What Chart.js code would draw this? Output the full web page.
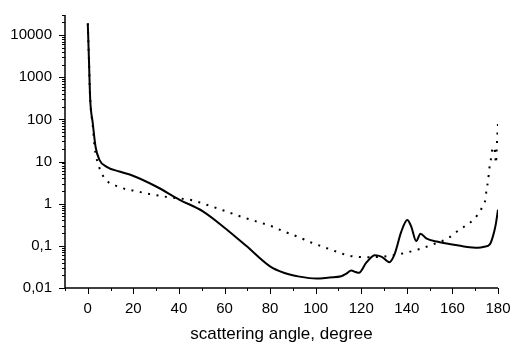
<!DOCTYPE html>
<html>
<head>
<meta charset="utf-8">
<script src="https://cdn.jsdelivr.net/npm/chart.js@4"></script>
<style>
  body { margin: 0; background: #fff; }
</style>
</head>
<body>
<canvas id="phaseChart" width="512" height="346"></canvas>
<script>
// solid curve
const solidAngle = [0, 0.5, 1.05, 2.2, 3.4, 5.1, 8.1, 13.9, 19.8, 30, 40.3, 50.5, 60, 69.5, 79.8, 86, 92.9,
    100.3, 106.1, 111.2, 113.5, 115.6, 117.5, 119, 122.2, 126, 129, 132.3, 134.6, 137.6, 140.2, 141.9,
    144.1, 146, 148.5, 153.6, 160, 165, 171.2, 174, 176.4, 177.8, 179, 180];
const solidValue = [19000, 2700, 310, 80, 22.5, 11, 7.6, 5.8, 4.6, 2.56, 1.24, 0.66, 0.27, 0.1, 0.033, 0.023, 0.0186,
    0.0167, 0.0178, 0.019, 0.022, 0.026, 0.024, 0.023, 0.04, 0.06, 0.055, 0.041, 0.063, 0.22, 0.41, 0.29,
    0.13, 0.195, 0.15, 0.125, 0.108, 0.097, 0.09, 0.095, 0.108, 0.17, 0.32, 0.72];

// dotted curve
const dotAngle = [0, 0.5, 1.05, 2.2, 3.0, 3.7, 4.8, 6.3, 9.2, 13.2, 16.9, 19.8, 27, 35, 46, 52, 59.3, 66, 73.9, 80, 86,
    92.2, 98, 103.2, 107.6, 114.9, 122.2, 130.2, 137.6, 144.9, 152.2, 158, 163.2, 167.6, 170.8, 173.1, 174.5,
    174.9, 175.6, 176.0, 176.4, 177.1, 177.5, 178.3, 178.8, 179.1, 179.4, 179.7, 180];
const dotValue = [19000, 2700, 310, 70, 22, 13, 7.9, 5, 3.2, 2.56, 2.2, 2.06, 1.7, 1.44, 1.2, 0.95, 0.7, 0.52, 0.38, 0.3, 0.22,
    0.164, 0.12, 0.095, 0.078, 0.058, 0.054, 0.056, 0.065, 0.082, 0.112, 0.15, 0.244, 0.35, 0.52, 0.84, 1.29,
    2.0, 3.4, 5.3, 8.3, 13, 20, 22, 13, 9, 19, 40, 80];

// axis ticks
const xMin = -10, xMax = 180, xStep = 10, xLabelStep = 20;
const yLabels = [0.01, 0.1, 1, 10, 100, 1000, 10000];
const yMin = 0.01, yMax = 30000;

const tickFont = { family: 'Liberation Sans, Arial, sans-serif', size: 15 };

function toPoints(xs, ys) {
    return xs.map((x, i) => ({ x: x, y: ys[i] }));
}

function isDecade(v) {
    const l = Math.log10(v);
    return Math.abs(l - Math.round(l)) < 1e-9;
}

// draw axis lines and tick marks (major longer than minor)
const axisTicks = {
    id: 'axisTicks',
    afterDraw(chart) {
        const { ctx, chartArea: a, scales: { x, y } } = chart;
        ctx.save();
        ctx.strokeStyle = '#000';
        ctx.lineWidth = 1.5;
        ctx.beginPath();
        ctx.moveTo(a.left, a.top);
        ctx.lineTo(a.left, a.bottom);
        ctx.lineTo(a.right, a.bottom);
        ctx.stroke();
        ctx.lineWidth = 1;
        ctx.beginPath();
        x.ticks.forEach(t => {
            const px = Math.round(x.getPixelForValue(t.value)) + 0.5;
            const len = (t.value >= 0 && t.value % xLabelStep === 0) ? 6 : 3;
            ctx.moveTo(px, a.bottom);
            ctx.lineTo(px, a.bottom + len);
        });
        y.ticks.forEach(t => {
            const py = Math.round(y.getPixelForValue(t.value)) + 0.5;
            const len = isDecade(t.value) ? 6 : 3;
            ctx.moveTo(a.left, py);
            ctx.lineTo(a.left - len, py);
        });
        ctx.stroke();
        ctx.restore();
    }
};

window.addEventListener('DOMContentLoaded', function () {
    const ctx = document.getElementById('phaseChart').getContext('2d');
    new Chart(ctx, {
        type: 'line',
        data: {
            datasets: [
                {
                    label: 'solid',
                    data: toPoints(solidAngle, solidValue),
                    borderColor: '#000',
                    borderWidth: 2,
                    pointRadius: 0,
                    fill: false,
                    cubicInterpolationMode: 'monotone'
                },
                {
                    label: 'dotted',
                    data: toPoints(dotAngle, dotValue),
                    borderColor: '#000',
                    borderWidth: 2,
                    borderDash: [2, 6.5],
                    borderCapStyle: 'butt',
                    pointRadius: 0,
                    fill: false,
                    cubicInterpolationMode: 'monotone'
                }
            ]
        },
        plugins: [axisTicks],
        options: {
            responsive: false,
            animation: false,
            layout: { padding: { top: 15, right: 14, left: 0, bottom: 0 } },
            plugins: {
                legend: { display: false },
                tooltip: { enabled: false }
            },
            scales: {
                x: {
                    type: 'linear',
                    min: xMin,
                    max: xMax,
                    afterFit: s => {
                        s.height = 58;
                        s.paddingLeft = 0;
                        s.paddingRight = 0;
                    },
                    grid: { display: false, drawTicks: false },
                    border: { display: false },
                    ticks: {
                        stepSize: xStep,
                        autoSkip: false,
                        maxRotation: 0,
                        padding: 12,
                        color: '#000',
                        font: tickFont,
                        callback: v => (v >= 0 && v % xLabelStep === 0) ? String(v) : ''
                    },
                    title: {
                        display: true,
                        text: 'scattering angle, degree',
                        color: '#000',
                        font: { family: 'Liberation Sans, Arial, sans-serif', size: 17 },
                        padding: { top: 2, bottom: 1 }
                    }
                },
                y: {
                    type: 'logarithmic',
                    min: yMin,
                    max: yMax,
                    afterFit: s => {
                        s.width = 65;
                        s.paddingTop = 0;
                        s.paddingBottom = 0;
                    },
                    afterBuildTicks: s => {
                        const t = [];
                        yLabels.forEach(d => {
                            for (let k = 1; k <= 9; k++) {
                                const v = d * k;
                                if (v <= yMax * 1.0001) t.push({ value: v });
                            }
                        });
                        s.ticks = t;
                    },
                    grid: { display: false, drawTicks: false },
                    border: { display: false },
                    ticks: {
                        autoSkip: false,
                        padding: 13,
                        color: '#000',
                        font: tickFont,
                        callback: v => isDecade(v) ? String(v).replace('.', ',') : ''
                    }
                }
            }
        }
    });
});
</script>
</body>
</html>
